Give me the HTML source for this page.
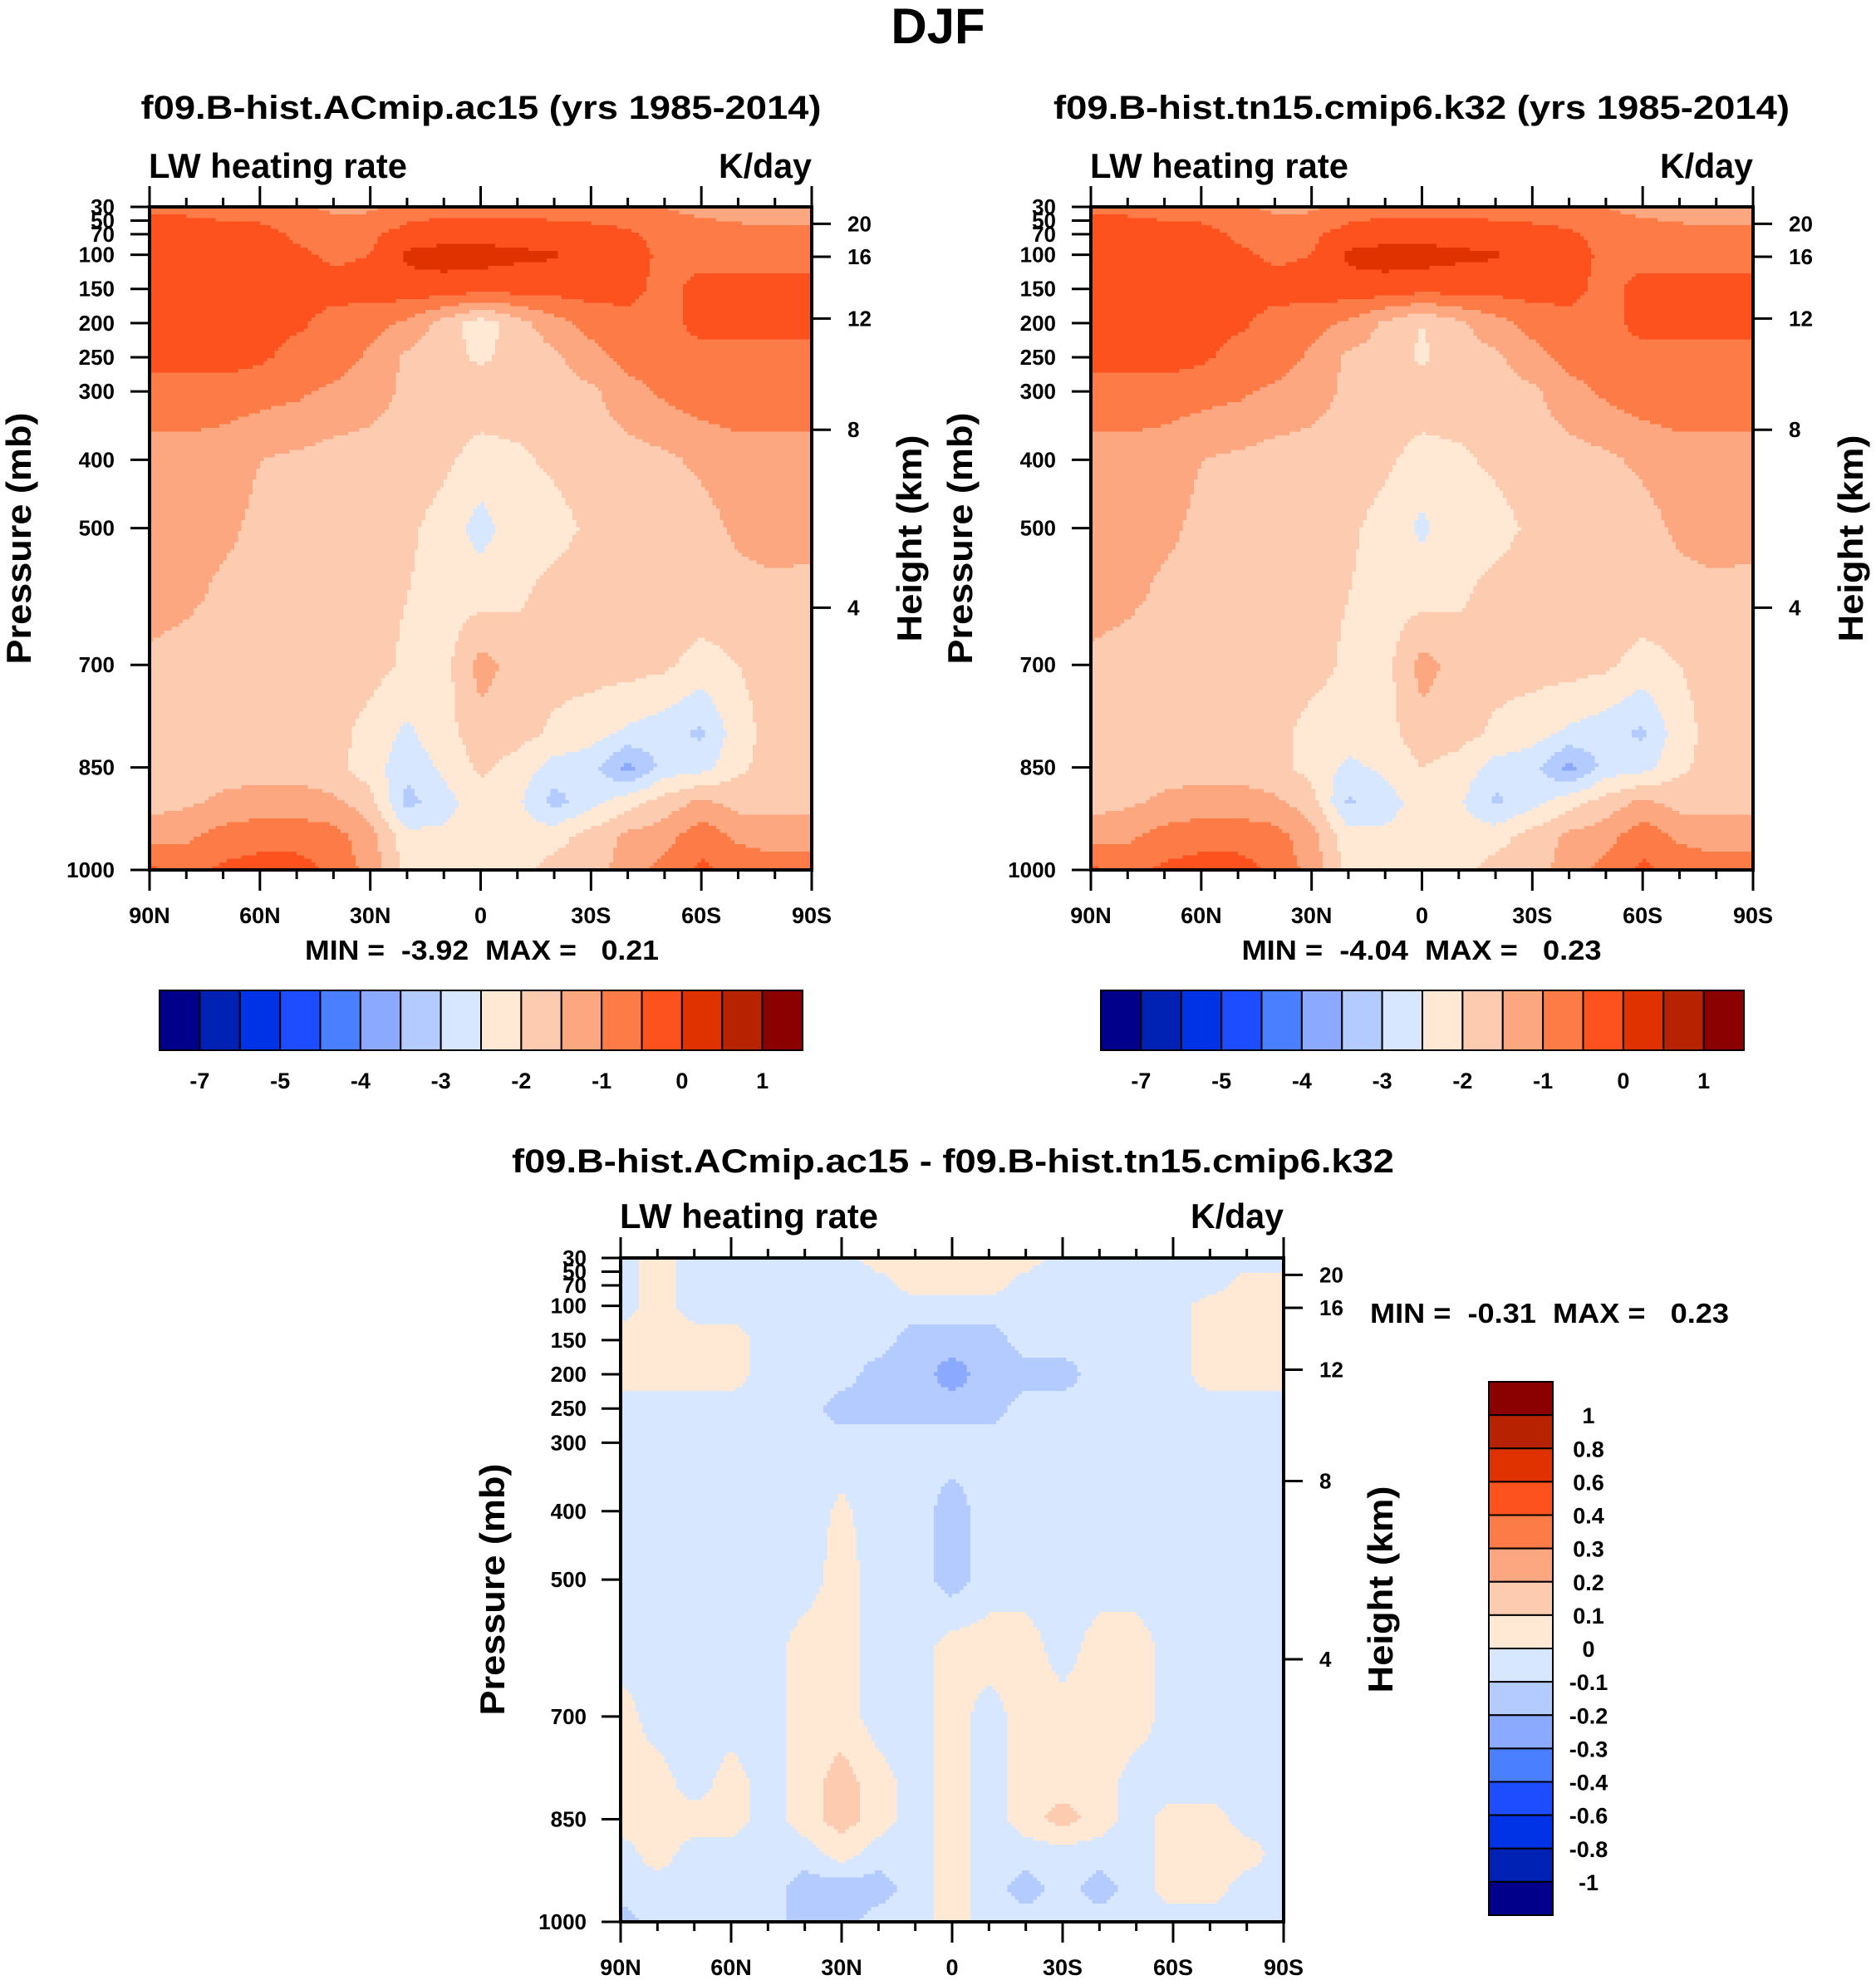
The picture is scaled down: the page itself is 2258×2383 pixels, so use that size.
<!DOCTYPE html>
<html><head><meta charset="utf-8"><style>
html,body{margin:0;padding:0;background:#fff;}
svg{display:block;}
text{font-family:"Liberation Sans",Arial,sans-serif;font-weight:bold;fill:#000;}
</style></head><body>
<svg id="fig" width="2258" height="2383" viewBox="0 0 2258 2383" xmlns="http://www.w3.org/2000/svg">
<rect x="0" y="0" width="2258" height="2383" fill="#fff"/>
<text x="1129" y="52" font-size="60" text-anchor="middle">DJF</text>

<text x="579" y="143" font-size="40" text-anchor="middle" textLength="819" lengthAdjust="spacingAndGlyphs">f09.B-hist.ACmip.ac15 (yrs 1985-2014)</text>
<text x="179" y="214" font-size="42" textLength="311" lengthAdjust="spacingAndGlyphs">LW heating rate</text>
<text x="977" y="214" font-size="42" text-anchor="end" textLength="112" lengthAdjust="spacingAndGlyphs">K/day</text>
<text x="580" y="1155" font-size="33" text-anchor="middle" textLength="426" lengthAdjust="spacingAndGlyphs" xml:space="preserve">MIN =  -3.92  MAX =   0.21</text>
<text transform="translate(37,648) rotate(-90)" font-size="42" text-anchor="middle" textLength="303" lengthAdjust="spacingAndGlyphs">Pressure (mb)</text>
<text transform="translate(1109,648) rotate(-90)" font-size="42" text-anchor="middle" textLength="249" lengthAdjust="spacingAndGlyphs">Height (km)</text>

<text x="1711" y="143" font-size="40" text-anchor="middle" textLength="886" lengthAdjust="spacingAndGlyphs">f09.B-hist.tn15.cmip6.k32 (yrs 1985-2014)</text>
<text x="1312" y="214" font-size="42" textLength="311" lengthAdjust="spacingAndGlyphs">LW heating rate</text>
<text x="2110" y="214" font-size="42" text-anchor="end" textLength="112" lengthAdjust="spacingAndGlyphs">K/day</text>
<text x="1711" y="1155" font-size="33" text-anchor="middle" textLength="433" lengthAdjust="spacingAndGlyphs" xml:space="preserve">MIN =  -4.04  MAX =   0.23</text>
<text transform="translate(1170,648) rotate(-90)" font-size="42" text-anchor="middle" textLength="303" lengthAdjust="spacingAndGlyphs">Pressure (mb)</text>
<text transform="translate(2242,648) rotate(-90)" font-size="42" text-anchor="middle" textLength="249" lengthAdjust="spacingAndGlyphs">Height (km)</text>

<text x="1147" y="1411" font-size="40" text-anchor="middle" textLength="1062" lengthAdjust="spacingAndGlyphs">f09.B-hist.ACmip.ac15 - f09.B-hist.tn15.cmip6.k32</text>
<text x="746" y="1478" font-size="42" textLength="311" lengthAdjust="spacingAndGlyphs">LW heating rate</text>
<text x="1545" y="1478" font-size="42" text-anchor="end" textLength="112" lengthAdjust="spacingAndGlyphs">K/day</text>
<text x="1865" y="1592" font-size="33" text-anchor="middle" textLength="432" lengthAdjust="spacingAndGlyphs" xml:space="preserve">MIN =  -0.31  MAX =   0.23</text>
<text transform="translate(607,1913) rotate(-90)" font-size="42" text-anchor="middle" textLength="303" lengthAdjust="spacingAndGlyphs">Pressure (mb)</text>
<text transform="translate(1676,1913) rotate(-90)" font-size="42" text-anchor="middle" textLength="249" lengthAdjust="spacingAndGlyphs">Height (km)</text>
</svg>
<script>
// ---- data ----
const lats = [90,80,70,60,50,40,30,20,10,0,-10,-20,-30,-40,-50,-60,-70,-80,-90];
const pressLevels = [30,70,100,150,200,250,300,400,500,600,700,800,850,900,950,1000];
const mainLevels = [-7,-6,-5,-4.5,-4,-3.5,-3,-2.5,-2,-1.5,-1,-0.5,0,0.5,1];
const mainTickLabels = ["-7","-5","-4","-3","-2","-1","0","1"];
const diffLevels = [-1,-0.8,-0.6,-0.4,-0.3,-0.2,-0.1,0,0.1,0.2,0.3,0.4,0.6,0.8,1];
const diffTickLabels = ["-1","-0.8","-0.6","-0.4","-0.3","-0.2","-0.1","0","0.1","0.2","0.3","0.4","0.6","0.8","1"];
const pressTicks = [30,50,70,100,150,200,250,300,400,500,700,850,1000];
const heightTicks = [20,16,12,8,4];
const latTickLabels = ["90N","60N","30N","0","30S","60S","90S"];
const palette = ["#00008b","#0022b4","#0033e6","#1e4cff","#4a7fff","#8aa9ff","#b3cbff","#d6e7ff","#ffe9d5","#fdcbb0","#fca77f","#fc7b46","#fd521d","#e03200","#b72300","#8b0000"];

const plot1Vals = [
[-0.6,-0.6,-0.7,-0.8,-0.9,-1.1,-1.1,-0.8,-0.7,-0.7,-0.7,-0.7,-0.8,-0.9,-1.0,-1.2,-1.3,-1.4,-1.4],
[-0.3,-0.3,-0.3,-0.3,-0.6,-0.7,-0.6,-0.3,-0.2,-0.2,-0.2,-0.3,-0.3,-0.4,-0.7,-0.7,-0.8,-0.8,-0.8],
[-0.3,-0.3,-0.3,-0.3,-0.4,-0.6,-0.5,0.1,0.2,0.2,0.1,0.05,-0.3,-0.3,-0.6,-0.7,-0.7,-0.7,-0.7],
[-0.3,-0.3,-0.3,-0.3,-0.3,-0.3,-0.3,-0.2,-0.2,-0.3,-0.3,-0.3,-0.3,-0.3,-0.7,-0.3,-0.3,-0.3,-0.3],
[-0.3,-0.3,-0.3,-0.3,-0.4,-0.7,-0.8,-1.1,-1.7,-2.3,-1.7,-1.2,-0.8,-0.7,-0.7,-0.3,-0.3,-0.3,-0.3],
[-0.3,-0.3,-0.3,-0.4,-0.7,-0.7,-1.1,-1.6,-1.8,-2.1,-1.8,-1.6,-1.2,-0.8,-0.7,-0.7,-0.7,-0.7,-0.7],
[-0.7,-0.7,-0.7,-0.8,-0.9,-1.1,-1.3,-1.6,-1.7,-1.7,-1.7,-1.7,-1.6,-1.2,-0.9,-0.7,-0.7,-0.7,-0.7],
[-1.2,-1.2,-1.3,-1.5,-1.6,-1.7,-1.7,-1.7,-1.9,-2.2,-2.1,-1.9,-1.7,-1.7,-1.6,-1.4,-1.2,-1.2,-1.2],
[-1.2,-1.3,-1.4,-1.6,-1.7,-1.7,-1.8,-1.9,-2.2,-2.7,-2.2,-2.2,-1.9,-1.7,-1.7,-1.7,-1.4,-1.2,-1.3],
[-1.3,-1.4,-1.6,-1.7,-1.7,-1.7,-1.8,-2.0,-2.2,-2.2,-2.1,-1.8,-1.7,-1.7,-1.7,-1.7,-1.7,-1.7,-1.7],
[-1.6,-1.7,-1.7,-1.7,-1.7,-1.7,-1.8,-2.1,-2.2,-1.3,-1.7,-1.8,-1.8,-1.8,-1.9,-2.2,-2.0,-1.8,-1.8],
[-1.7,-1.7,-1.7,-1.7,-1.7,-1.8,-2.2,-2.6,-2.2,-1.7,-1.8,-2.1,-2.3,-2.6,-2.8,-3.1,-2.2,-1.8,-1.8],
[-1.7,-1.7,-1.7,-1.7,-1.7,-1.8,-2.3,-2.8,-2.4,-1.9,-2.2,-2.7,-2.8,-3.7,-2.8,-2.7,-2.1,-1.8,-1.8],
[-1.7,-1.6,-1.4,-1.3,-1.3,-1.4,-1.8,-3.2,-2.7,-2.2,-2.4,-3.2,-2.7,-2.2,-1.8,-1.4,-1.7,-1.7,-1.7],
[-1.2,-1.1,-0.8,-0.7,-0.7,-0.8,-1.3,-2.3,-2.4,-2.3,-2.3,-2.2,-1.8,-1.4,-1.2,-0.7,-1.1,-1.2,-1.2],
[-0.4,-0.7,-0.4,-0.3,-0.3,-0.6,-1.2,-2.2,-2.3,-2.2,-2.2,-1.8,-1.7,-1.3,-0.8,-0.4,-0.7,-0.8,-0.8]
];
const plot2Vals = [
[-0.6,-0.6,-0.7,-0.8,-0.9,-1.1,-1.1,-0.8,-0.7,-0.7,-0.7,-0.7,-0.8,-0.9,-1.0,-1.2,-1.3,-1.4,-1.4],
[-0.3,-0.3,-0.3,-0.3,-0.6,-0.7,-0.6,-0.3,-0.2,-0.2,-0.2,-0.3,-0.3,-0.4,-0.7,-0.7,-0.8,-0.8,-0.8],
[-0.3,-0.3,-0.3,-0.3,-0.4,-0.6,-0.5,0.1,0.2,0.2,0.1,0.05,-0.3,-0.3,-0.6,-0.7,-0.7,-0.7,-0.7],
[-0.3,-0.3,-0.3,-0.3,-0.3,-0.3,-0.3,-0.2,-0.2,-0.3,-0.3,-0.3,-0.3,-0.3,-0.7,-0.3,-0.3,-0.3,-0.3],
[-0.3,-0.3,-0.3,-0.3,-0.4,-0.7,-0.8,-1.1,-1.6,-2.0,-1.6,-1.2,-0.8,-0.7,-0.7,-0.3,-0.3,-0.3,-0.3],
[-0.3,-0.3,-0.3,-0.4,-0.7,-0.7,-1.1,-1.6,-1.7,-2.1,-1.7,-1.6,-1.2,-0.8,-0.7,-0.7,-0.7,-0.7,-0.7],
[-0.7,-0.7,-0.7,-0.8,-0.9,-1.1,-1.3,-1.6,-1.7,-1.7,-1.7,-1.7,-1.6,-1.2,-0.9,-0.7,-0.7,-0.7,-0.7],
[-1.2,-1.2,-1.3,-1.5,-1.6,-1.7,-1.7,-1.7,-1.9,-2.2,-2.1,-1.9,-1.7,-1.7,-1.6,-1.4,-1.2,-1.2,-1.2],
[-1.2,-1.3,-1.4,-1.6,-1.7,-1.7,-1.8,-1.9,-2.2,-2.6,-2.2,-2.2,-1.9,-1.7,-1.7,-1.7,-1.4,-1.2,-1.3],
[-1.3,-1.4,-1.6,-1.7,-1.7,-1.7,-1.8,-2.0,-2.2,-2.2,-2.1,-1.8,-1.7,-1.7,-1.7,-1.7,-1.7,-1.7,-1.7],
[-1.6,-1.7,-1.7,-1.7,-1.7,-1.7,-1.8,-2.1,-2.2,-1.3,-1.7,-1.8,-1.8,-1.8,-1.9,-2.2,-2.0,-1.8,-1.8],
[-1.7,-1.7,-1.7,-1.7,-1.7,-1.8,-2.2,-2.3,-2.2,-1.7,-1.8,-2.1,-2.3,-2.6,-2.8,-3.1,-2.2,-1.8,-1.8],
[-1.7,-1.7,-1.7,-1.7,-1.7,-1.8,-2.2,-2.6,-2.4,-2.0,-2.2,-2.7,-2.8,-3.7,-2.8,-2.7,-2.1,-1.8,-1.8],
[-1.7,-1.6,-1.4,-1.3,-1.3,-1.4,-1.8,-3.1,-2.7,-2.3,-2.4,-3.1,-2.7,-2.2,-1.8,-1.4,-1.7,-1.7,-1.7],
[-1.2,-1.1,-0.8,-0.7,-0.7,-0.8,-1.3,-2.3,-2.4,-2.3,-2.3,-2.2,-1.8,-1.4,-1.2,-0.7,-1.1,-1.2,-1.2],
[-0.4,-0.7,-0.4,-0.3,-0.3,-0.6,-1.2,-2.2,-2.3,-2.2,-2.2,-1.8,-1.7,-1.3,-0.8,-0.4,-0.7,-0.8,-0.8]
];
const diffVals = [
[-.05,0.05,-.05,-.05,-.05,-.05,-.05,0.05,0.05,0.05,0.05,0.05,-.05,-.05,-.05,-.05,-.05,-.05,-.05],
[-.05,0.05,-.05,-.05,-.05,-.05,-.05,-.05,0.05,0.05,0.05,-.05,-.05,-.05,-.05,-.05,-.05,0.05,0.05],
[-.05,0.05,-.05,-.05,-.05,-.05,-.05,-.05,-.05,-.05,-.05,-.05,-.05,-.05,-.05,-.05,0.05,0.05,0.05],
[0.05,0.05,0.05,0.05,-.05,-.05,-.05,-.05,-.15,-.15,-.15,-.05,-.05,-.05,-.05,-.05,0.05,0.05,0.05],
[0.05,0.05,0.05,0.05,-.05,-.05,-.05,-.15,-.15,-.25,-.15,-.15,-.15,-.05,-.05,-.05,0.05,0.05,0.05],
[-.05,-.05,-.05,-.05,-.05,-.05,-.15,-.15,-.15,-.15,-.15,-.05,-.05,-.05,-.05,-.05,-.05,-.05,-.05],
[-.05,-.05,-.05,-.05,-.05,-.05,-.05,-.05,-.05,-.05,-.05,-.05,-.05,-.05,-.05,-.05,-.05,-.05,-.05],
[-.05,-.05,-.05,-.05,-.05,-.05,0.02,-.05,-.05,-.15,-.05,-.05,-.05,-.05,-.05,-.05,-.05,-.05,-.05],
[-.05,-.05,-.05,-.05,-.05,-.05,0.05,-.05,-.05,-.15,-.05,-.05,-.05,-.05,-.05,-.05,-.05,-.05,-.05],
[-.05,-.05,-.05,-.05,-.05,0.05,0.05,-.05,-.05,0.05,0.05,0.05,-.05,0.05,0.05,-.05,-.05,-.05,-.05],
[0.05,-.05,-.05,-.05,-.05,0.05,0.05,-.05,-.05,0.05,-.05,0.05,0.05,0.05,0.05,-.05,-.05,-.05,-.05],
[0.05,0.05,-.05,0.05,-.05,0.05,0.15,0.05,-.05,0.05,-.05,0.05,0.05,0.05,-.05,-.05,-.05,-.05,-.05],
[0.05,0.05,0.05,0.05,-.05,0.05,0.15,0.05,-.05,0.05,-.05,0.05,0.15,0.05,-.05,0.05,0.05,-.05,-.05],
[-.05,0.05,-.05,-.05,-.05,-.05,0.05,-.05,-.05,0.05,-.05,-.05,-.05,-.05,-.05,0.05,0.05,0.05,-.05],
[-.05,-.05,-.05,-.05,-.05,-.15,-.15,-.15,-.05,0.05,-.05,-.15,-.05,-.15,-.05,0.05,0.05,-.05,-.05],
[-.15,-.05,-.05,-.05,-.05,-.15,-.15,-.05,-.05,0.05,-.05,-.05,-.05,-.05,-.05,-.05,-.05,-.05,-.05]
];

// ---- helpers ----
const NS = "http://www.w3.org/2000/svg";
const svg = document.getElementById('fig');
function mk(tag, attrs, parent){ const e=document.createElementNS(NS,tag); for(const k in attrs) e.setAttribute(k,attrs[k]); (parent||svg).appendChild(e); return e; }
function isaP(zkm){ const z=zkm*1000; if(z<=11000) return 1013.25*Math.pow(1-2.25577e-5*z,5.25588); return 226.32*Math.exp(-(z-11000)/6341.6); }
function sample(vals, lat, p){
  let fi=(90-lat)/10; let i0=Math.min(Math.floor(fi),lats.length-2); let tx=fi-i0;
  let j0=0; while(j0<pressLevels.length-2 && p>pressLevels[j0+1]) j0++;
  let ty=(p-pressLevels[j0])/(pressLevels[j0+1]-pressLevels[j0]); ty=Math.max(0,Math.min(1,ty));
  const a=vals[j0][i0], b=vals[j0][i0+1], c=vals[j0+1][i0], d=vals[j0+1][i0+1];
  return (a*(1-tx)+b*tx)*(1-ty)+(c*(1-tx)+d*tx)*ty;
}
function levelIndex(v, levels){ let k=0; while(k<levels.length && v>=levels[k]) k++; return k; }

function drawPanel(id, vals, levels, X0, Y0, W, H, pressLabelRight){
  const xOf = lat => X0 + (90-lat)/180*W;
  const yOf = p => Y0 + (p-30)/970*H;
  const g = mk('g',{});
  
  
  const nx=180, ny=180, cw=W/nx, ch=H/ny;
  for(let j=0;j<ny;j++){
    const p = 30 + (j+0.5)/ny*970;
    let runStart=0, runCol=-1;
    for(let i=0;i<=nx;i++){
      let col=-2;
      if(i<nx){ const lat = 90-(i+0.5)/nx*180; col = levelIndex(sample(vals,lat,p),levels); }
      if(col!==runCol){
        if(runCol>=0){
          const r = mk('rect',{x:(X0+runStart*cw).toFixed(2),y:(Y0+j*ch).toFixed(2),width:((i-runStart)*cw+0.6).toFixed(2),height:(ch+0.6).toFixed(2),fill:palette[runCol],'shape-rendering':'crispEdges'},g);
          
          
        }
        runStart=i; runCol=col;
      }
    }
  }
  const frame = mk('rect',{x:X0,y:Y0,width:W,height:H,fill:'none',stroke:'#000','stroke-width':4});
  
  
  pressTicks.forEach(p=>{
    const y=yOf(p);
    mk('line',{x1:X0-23,y1:y,x2:X0,y2:y,stroke:'#000','stroke-width':3});
    const t = mk('text',{x:pressLabelRight,y:y+9,'font-size':26,'text-anchor':'end'});
    t.textContent = String(p);
    
    
  });
  heightTicks.forEach(z=>{
    const y=yOf(isaP(z));
    mk('line',{x1:X0+W,y1:y,x2:X0+W+23,y2:y,stroke:'#000','stroke-width':3});
    const t = mk('text',{x:X0+W+43,y:y+9,'font-size':26});
    t.textContent = String(z);
    
    
  });
  for(let lat=90; lat>=-90; lat-=10){
    const x=xOf(lat), major = (lat%30===0);
    const L = major?25:11;
    mk('line',{x1:x,y1:Y0-L,x2:x,y2:Y0,stroke:'#000','stroke-width':3});
    mk('line',{x1:x,y1:Y0+H,x2:x,y2:Y0+H+L,stroke:'#000','stroke-width':3});
  }
  latTickLabels.forEach((lab,k)=>{
    const t = mk('text',{x:xOf(90-30*k),y:Y0+H+64,'font-size':27,'text-anchor':'middle'});
    t.textContent = lab;
    
    
  });
}

function drawHColorbar(id, X0, Y0, W, H){
  const bw = W/palette.length;
  palette.forEach((c,k)=>{
    const r = mk('rect',{x:X0+k*bw,y:Y0,width:bw,height:H,fill:c,stroke:'#000','stroke-width':2});
    
    
  });
  mainTickLabels.forEach((lab,k)=>{
    const t = mk('text',{x:X0+(1+2*k)*bw,y:Y0+H+46,'font-size':27,'text-anchor':'middle'});
    t.textContent = lab;
    
    
  });
}

drawPanel('panel1', plot1Vals, mainLevels, 180, 249, 797, 798, 138);
drawPanel('panel2', plot2Vals, mainLevels, 1313, 249, 797, 798, 1271);
drawPanel('diff', diffVals, diffLevels, 747, 1514, 798, 799, 706);
drawHColorbar('panel1', 192, 1192, 774, 72);
drawHColorbar('panel2', 1325, 1192, 774, 72);

(function(){
  const X0=1792, Y0=1663, W=77, H=642, bh=H/palette.length;
  palette.forEach((c,k)=>{
    const r = mk('rect',{x:X0,y:Y0+k*bh,width:W,height:bh,fill:palette[palette.length-1-k],stroke:'#000','stroke-width':2});
    
    
  });
  diffTickLabels.forEach((lab,k)=>{
    const y = Y0 + (diffTickLabels.length-k)*bh;
    const t = mk('text',{x:1912,y:y+10,'font-size':27,'text-anchor':'middle'});
    t.textContent = lab;
    
    
  });
})();
</script>
</body></html>
